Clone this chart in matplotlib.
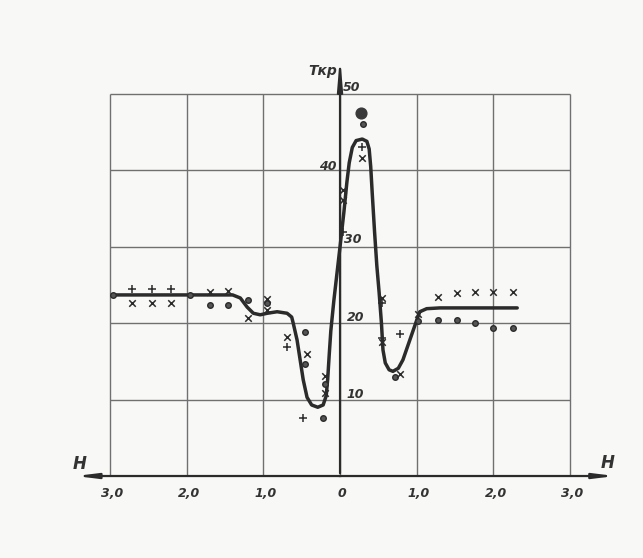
import matplotlib.pyplot as plt
import numpy as np

# кривая T_кр(H)
curve_h = [-2.96, -1.40, -1.30, -1.21, -1.13, -1.04, -0.95, -0.82, -0.69, -0.63,
           -0.61, -0.56, -0.52, -0.48, -0.43, -0.37, -0.29, -0.22, -0.18, -0.16,
           -0.14, -0.12, -0.08, -0.04, 0.00, 0.05, 0.09, 0.12, 0.16, 0.21,
           0.29, 0.35, 0.38, 0.40, 0.42, 0.45, 0.48, 0.51, 0.54, 0.56,
           0.59, 0.64, 0.69, 0.76, 0.82, 0.91, 1.00, 1.04, 1.13, 1.30, 2.31]
curve_t = [23.7, 23.7, 23.3, 22.1, 21.3, 21.1, 21.3, 21.5, 21.3, 20.8,
           20.0, 17.8, 15.2, 12.6, 10.3, 9.3, 9.0, 9.3, 10.5, 12.8,
           16.0, 19.0, 23.0, 26.5, 30.0, 34.5, 38.5, 41.0, 43.0, 43.9,
           44.1, 43.8, 42.8, 40.5, 37.0, 32.0, 27.5, 24.0, 20.0, 16.5,
           14.8, 13.9, 13.7, 14.1, 15.2, 17.8, 20.4, 21.5, 21.9, 22.0, 22.0]

# экспериментальные точки
circ_h = [-2.96, -1.96, -1.69, -1.46, -1.20, -0.95, -0.46, -0.46, -0.20, -0.22,
          0.30, 0.72, 1.02, 1.28, 1.53, 1.76, 2.00, 2.26]
circ_t = [23.7, 23.7, 22.4, 22.4, 23.0, 22.6, 18.8, 14.7, 12.0, 7.6,
          46.1, 13.0, 20.3, 20.4, 20.4, 20.0, 19.4, 19.4]
cross_h = [-2.71, -2.45, -2.20, -1.69, -1.46, -1.20, -0.95, -0.95, -0.69, -0.43,
           -0.20, -0.20, 0.29, 0.04, 0.04, 0.55, 0.55, 0.78, 1.02, 1.28,
           1.53, 1.76, 2.00, 2.26]
cross_t = [22.6, 22.6, 22.6, 24.1, 24.2, 20.7, 23.2, 21.7, 18.2, 16.0,
           13.1, 10.8, 41.6, 37.4, 36.1, 23.3, 17.5, 13.3, 21.2, 23.4,
           24.0, 24.1, 24.1, 24.1]
plus_h = [-2.71, -2.45, -2.20, -0.69, -0.48, 0.29, 0.04, 0.55, 0.55, 0.78]
plus_t = [24.5, 24.5, 24.5, 16.9, 7.6, 43.1, 31.9, 22.6, 18.1, 18.6]
big_h = [0.27]
big_t = [47.5]

h_ticks = [-3, -2, -1, 0, 1, 2, 3]
h_labels = ['3,0', '2,0', '1,0', '0', '1,0', '2,0', '3,0']
t_ticks = [10, 20, 30, 40, 50]
t_labels = ['10', '20', '30', '40', '50']

ink = '#2b2b2b'
grid_c = '#707070'
hand = dict(fontstyle='italic', fontweight='bold', color='#333333', family='DejaVu Sans')

fig = plt.figure(figsize=(6.43, 5.58), dpi=100, facecolor='#f8f8f6')
ax = fig.add_axes([0, 0, 1, 1])
ax.set_facecolor('#f8f8f6')
ax.set_xlim(-4.433, 3.950)
ax.set_ylim(-10.73, 62.3)
ax.axis('off')

# сетка
ax.vlines(h_ticks, 0, 50, color=grid_c, lw=1.0)
ax.hlines(t_ticks, -3, 3, color=grid_c, lw=1.0)

# оси со стрелками
ax.annotate('', xy=(3.62, 0), xytext=(-0.05, 0),
            arrowprops=dict(arrowstyle='-|>,head_length=1.2,head_width=0.15', color=ink, lw=1.6))
ax.annotate('', xy=(-3.48, 0), xytext=(0.05, 0),
            arrowprops=dict(arrowstyle='-|>,head_length=1.2,head_width=0.15', color=ink, lw=1.6))
ax.annotate('', xy=(0, 55.4), xytext=(0, 0),
            arrowprops=dict(arrowstyle='-|>,head_length=1.8,head_width=0.15', color=ink, lw=1.6))

# подписи
for h, lab in zip(h_ticks, h_labels):
    ax.text(h + 0.03, -2.3, lab, ha='center', va='center', fontsize=9, **hand)
label_pos = {10: (0.2, 10.7), 20: (0.2, 20.8), 30: (0.17, 31.0), 40: (-0.16, 40.5), 50: (0.15, 50.9)}
for t, lab in zip(t_ticks, t_labels):
    x, y = label_pos[t]
    ax.text(x, y, lab, ha='center', va='center', fontsize=9, **hand)
ax.text(-3.39, 1.6, 'H', ha='center', va='center', fontsize=12, **hand)
ax.text(3.49, 1.7, 'H', ha='center', va='center', fontsize=12, **hand)
ax.text(-0.22, 53.0, 'Tкр', ha='center', va='center', fontsize=10, **hand)

# кривая и точки
ax.plot(curve_h, curve_t, color=ink, lw=2.5, solid_joinstyle='round',
        solid_capstyle='round', zorder=3)
ax.scatter(circ_h, circ_t, s=16, facecolors='#555555', edgecolors=ink, linewidths=1.0, zorder=4)
ax.scatter(cross_h, cross_t, s=22, marker='x', color=ink, linewidths=1.1, zorder=4)
ax.scatter(plus_h, plus_t, s=26, marker='+', color=ink, linewidths=1.1, zorder=4)
ax.scatter(big_h, big_t, s=60, color='#3a3a3a', zorder=4)

plt.savefig('out.png', dpi=100, facecolor=fig.get_facecolor())
